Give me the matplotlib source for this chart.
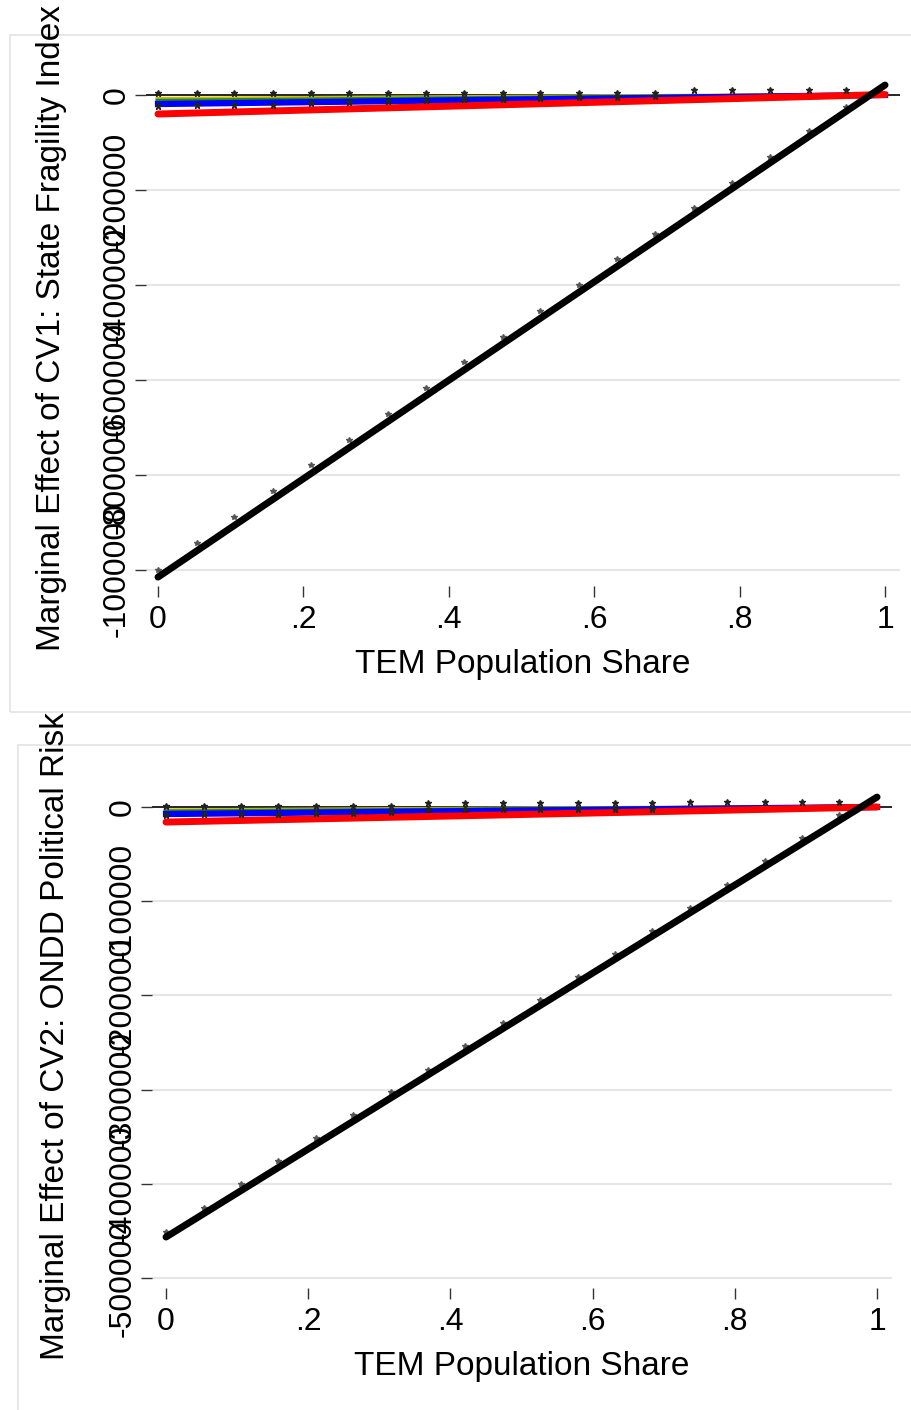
import numpy as np
import matplotlib.pyplot as plt
from matplotlib.patches import Rectangle

plt.rcParams['font.family'] = ['Liberation Sans', 'DejaVu Sans']

# x positions of the evaluation points (TEM population share)
share = [0, .053, .105, .158, .211, .263, .316, .368, .421, .474,
         .526, .579, .632, .684, .737, .789, .842, .895, .947]
line_x = [0, 1]
xticks = [0, .2, .4, .6, .8, 1]
xticklabels = ['0', '.2', '.4', '.6', '.8', '1']

# panel 1: CV1 State Fragility Index
cv1_black = [-1015000, 21000]
cv1_red = [-40000, 1000]
cv1_blue = [-19000, 0]
cv1_green = [-13000, 0]
cv1_yellow = [-9000, 0]
cv1_pts = [-1000000, -943000, -888000, -834000, -779000, -726000, -672000,
           -617000, -562000, -509000, -455000, -400000, -345000, -293000,
           -238000, -185000, -131000, -76000, -25000]
cv1_up = [4000, 4000, 4000, 4000, 4000, 4000, 4000, 4000, 4000, 4000,
          4000, 4000, 4000, 4000, 10000, 10000, 10000, 10000, 10000]
cv1_low = [-23000, -21000, -21000, -20000, -17000, -15000, -12000,
           -10000, -9000, -8000, -6000, -5000, -4000, -3000]
cv1_yticks = [0, -200000, -400000, -600000, -800000, -1000000]
cv1_ylabels = ['0', '-200000', '-400000', '-600000', '-800000', '-1000000']

# panel 2: CV2 ONDD Political Risk
cv2_black = [-456500, 10500]
cv2_red = [-16000, 0]
cv2_blue = [-7500, 0]
cv2_green = [-5300, 0]
cv2_yellow = [-4000, 0]
cv2_pts = [-451000, -425700, -400200, -375800, -351400, -327000, -302500,
           -279200, -253700, -229300, -204900, -180500, -156100, -131600,
           -107200, -82800, -57300, -32900, -9000]
cv2_up = [1000, 1000, 1000, 1000, 1000, 1000, 1000, 4000, 4000, 4000,
          4000, 4000, 4000, 4000, 5000, 5000, 5000, 5000, 5000]
cv2_low = [-8500, -7500, -7500, -7000, -6500, -6000, -5000,
           -2000, -2000, -2000, -2000, -2000, -2000, -2000]
cv2_yticks = [0, -100000, -200000, -300000, -400000, -500000]
cv2_ylabels = ['0', '-100000', '-200000', '-300000', '-400000', '-500000']

fig = plt.figure(figsize=(9.12, 14.10), dpi=100)

# light grey panel frames
fig.patches.append(Rectangle((10/912, 1-712/1410), 0.995, 677/1410, transform=fig.transFigure,
                             fill=False, edgecolor='#e3e3e3', lw=1.2))
fig.patches.append(Rectangle((18/912, 1-1420/1410), 0.995, 675/1410, transform=fig.transFigure,
                             fill=False, edgecolor='#e3e3e3', lw=1.2))


def panel(rect, xlim, ylim, black, red, blue, green, yellow, pts, up, low,
          yticks, ylabels, ylabel, ylab_xy, xlab_xy):
    ax = fig.add_axes(rect)
    for s in ax.spines.values():
        s.set_visible(False)
    for t in yticks[1:]:
        ax.axhline(t, color='#e6e6e6', lw=1.5, zorder=0)
    ax.axhline(0, color='black', lw=1.2, zorder=1)
    ax.plot(line_x, yellow, color='#d2b900', lw=3.5, zorder=2)
    ax.plot(line_x, green, color='#1e8c1e', lw=3.5, zorder=3)
    ax.plot(line_x, blue, color='#0000ff', lw=4.5, zorder=4)
    ax.plot(line_x, red, color='#ff0000', lw=5, zorder=5, solid_capstyle='round')
    ax.plot(share, up, ls='none', marker='*', ms=5, color='#222222', zorder=6)
    ax.plot(share[:len(low)], low, ls='none', marker='*', ms=5, color='#222222', zorder=6)
    ax.plot(share, pts, ls='none', marker='*', ms=4, color='#555555', zorder=6)
    ax.plot(line_x, black, color='black', lw=5, zorder=7, solid_capstyle='round')
    ax.set_xlim(*xlim)
    ax.set_ylim(*ylim)
    ax.set_xticks(xticks)
    ax.set_xticklabels(xticklabels, fontsize=23)
    ax.set_yticks(yticks)
    ax.set_yticklabels(ylabels, fontsize=23, rotation=90, va='center')
    ax.tick_params(axis='both', length=8, width=1, color='#333333', pad=6)
    ax.tick_params(axis='y', pad=2)
    fig.text(ylab_xy[0]/912, 1-ylab_xy[1]/1410, ylabel, rotation=90,
             ha='center', va='center', fontsize=24)
    fig.text(xlab_xy[0]/912, 1-xlab_xy[1]/1410, 'TEM Population Share',
             ha='center', va='center', fontsize=24)
    return ax


panel([146/912, 1-586/1410, (900-146)/912, (586-78)/1410],
      (-0.0165, 1.0206), (-1033700, 35800),
      cv1_black, cv1_red, cv1_blue, cv1_green, cv1_yellow, cv1_pts, cv1_up, cv1_low,
      cv1_yticks, cv1_ylabels, 'Marginal Effect of CV1: State Fragility Index',
      (52, 328), (523, 665))

panel([152/912, 1-1288/1410, (892-152)/912, (1288-792)/1410],
      (-0.0197, 1.021), (-510600, 15900),
      cv2_black, cv2_red, cv2_blue, cv2_green, cv2_yellow, cv2_pts, cv2_up, cv2_low,
      cv2_yticks, cv2_ylabels, 'Marginal Effect of CV2: ONDD Political Risk',
      (56, 1036), (522, 1366))

fig.savefig('out.png', dpi=100, facecolor='white')
